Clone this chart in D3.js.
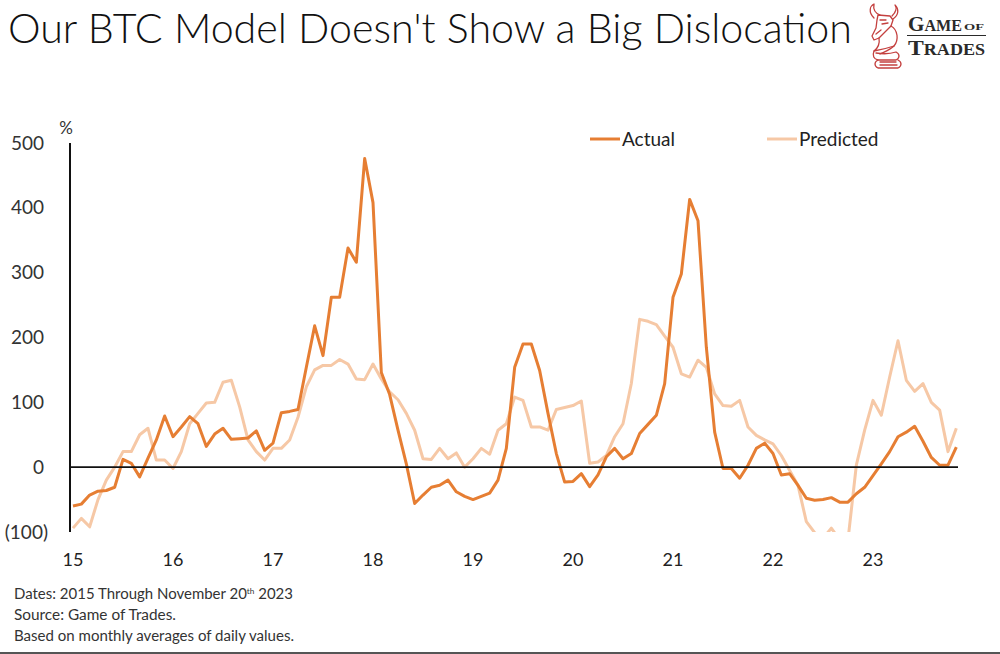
<!DOCTYPE html>
<html>
<head>
<meta charset="utf-8">
<script src="https://cdn.jsdelivr.net/npm/d3@7"></script>
<style>
  html, body { margin: 0; padding: 0; background: #fff; }
  svg { display: block; }
</style>
</head>
<body>
<svg id="chart" width="1000" height="654"></svg>
<script>
// ---------------- DATA ----------------
const startYear = 2015;           // first month: Jan 2015, monthly through Nov 2023
const actual = [
  -60, -57, -43, -37, -36, -31, 12, 6, -15, 14, 42, 79,
  47, 62, 78, 67, 32, 51, 60, 43, 44, 45, 56, 26,
  37, 84, 86, 89, 154, 218, 172, 262, 262, 338, 316, 476,
  408, 146, 112, 57, 5, -56, -43, -31, -28, -20, -38, -45,
  -50, -45, -40, -20, 29, 154, 190, 190, 149, 83, 21, -23,
  -22, -10, -30, -12, 16, 29, 13, 21, 52, 66, 80, 129,
  262, 298, 413, 380, 185, 54, -2, -2, -17, 3, 29, 37,
  21, -12, -10, -28, -48, -51, -50, -47, -54, -54, -41, -31,
  -13, 5, 24, 47, 54, 63, 40, 15, 3, 3, 31
];
const predicted = [
  -94, -79, -92, -50, -20, 0, 24, 24, 50, 60, 11, 11,
  -2, 24, 67, 83, 99, 100, 131, 134, 93, 42, 24, 11,
  29, 29, 42, 77, 124, 150, 157, 157, 166, 159, 136, 135,
  159, 136, 116, 104, 83, 57, 13, 12, 29, 13, 22, 0,
  13, 29, 20, 57, 67, 108, 103, 62, 62, 57, 89, 92,
  95, 102, 6, 8, 18, 47, 67, 129, 228, 225, 220, 202,
  185, 144, 139, 165, 154, 113, 95, 94, 103, 62, 49, 42,
  36, 18, -5, -28, -84, -101, -110, -94, -112, -112, 3, 57,
  103, 80, 139, 195, 134, 117, 129, 100, 88, 24, 60
];
const yTickValues = [-100, 0, 100, 200, 300, 400, 500];
const yTickLabels = ["(100)", "0", "100", "200", "300", "400", "500"];
const xTickLabels = ["15", "16", "17", "18", "19", "20", "21", "22", "23"];
const seriesNames = ["Actual", "Predicted"];
const colors = { Actual: "#E67E33", Predicted: "#F6C8A6" };

// ---------------- LAYOUT ----------------
const svg = d3.select("#chart");
const plotLeft = 70, plotRight = 958, yTop = 143, yBottom = 532;
const xFirst = 73, monthWidth = 100 / 12;

const x = d3.scaleLinear().domain([0, actual.length - 1])
  .range([xFirst, xFirst + (actual.length - 1) * monthWidth]);
const y = d3.scaleLinear().domain([-100, 500]).range([yBottom, yTop]);

const fontMain = "Lato, 'Open Sans', 'DejaVu Sans', sans-serif";

// Title
svg.append("text")
  .attr("x", 8).attr("y", 43)
  .attr("font-family", fontMain)
  .attr("font-size", 41)
  .attr("font-weight", 300)
  .attr("fill", "#111")
  .attr("textLength", 844)
  .attr("lengthAdjust", "spacingAndGlyphs")
  .text("Our BTC Model Doesn't Show a Big Dislocation");

// Logo
const logo = svg.append("g").attr("transform", "translate(866,4)")
  .attr("fill", "none").attr("stroke", "#C4403F").attr("stroke-width", 1.3)
  .attr("stroke-linejoin", "round").attr("stroke-linecap", "round");
logo.append("path").attr("d", "M8,14 C2,8 4,2 8,0 C7,5 9,9 14,11");
logo.append("path").attr("d", "M26,12 C30,8 31,4 29,1 C33,5 33,11 27,15");
logo.append("path").attr("d", "M12,11 L24,12 L27,16 L25,22 L21,26 L13,34 L8,36 L6,32 L10,24 L11,16 Z");
logo.append("path").attr("d", "M14,16 L20,16 M16,20 L22,19 M10,30 L15,26");
logo.append("path").attr("d", "M25,22 C32,26 33,36 28,42 C24,46 18,48 14,50");
logo.append("path").attr("d", "M13,34 C14,40 12,44 8,47 C14,46 22,44 28,42");
logo.append("path").attr("d", "M8,47 C6,52 8,55 12,56 L30,56 C34,54 34,50 30,48 C24,50 16,50 10,49");
logo.append("path").attr("d", "M12,56 C8,58 8,62 12,64 L32,64 C36,62 36,58 32,56");
logo.append("path").attr("d", "M14,58 L30,58 M14,61 L31,61");
const logoText = svg.append("g").attr("font-family", "'Liberation Serif', 'DejaVu Serif', serif")
  .attr("fill", "#2a2a2a").attr("font-weight", 700);
const t1 = logoText.append("text").attr("x", 908).attr("y", 31)
  .attr("textLength", 54).attr("lengthAdjust", "spacingAndGlyphs");
t1.append("tspan").attr("font-size", 21).text("G");
t1.append("tspan").attr("font-size", 16).text("AME");
logoText.append("text").attr("x", 964).attr("y", 30).attr("font-size", 8)
  .attr("textLength", 20).attr("lengthAdjust", "spacingAndGlyphs").text("OF");
svg.append("line").attr("x1", 907).attr("x2", 986).attr("y1", 35.5).attr("y2", 35.5)
  .attr("stroke", "#2a2a2a").attr("stroke-width", 1.2);
const t2 = logoText.append("text").attr("x", 908).attr("y", 55)
  .attr("textLength", 77).attr("lengthAdjust", "spacingAndGlyphs");
t2.append("tspan").attr("font-size", 21).text("T");
t2.append("tspan").attr("font-size", 16).text("RADES");

// Y axis labels
const yAxisG = svg.append("g");
yAxisG.selectAll("text.ytick").data(yTickValues).join("text")
  .attr("class", "ytick")
  .attr("x", 44)
  .attr("y", d => y(d))
  .attr("dy", "0.35em")
  .attr("text-anchor", "end")
  .attr("font-family", fontMain)
  .attr("font-size", 19)
  .attr("fill", "#333")
  .text((d, i) => yTickLabels[i]);
svg.select("text.ytick").attr("x", 48); // "(100)" sits slightly further right
svg.append("text").attr("x", 66).attr("y", 134)
  .attr("text-anchor", "middle").attr("font-family", fontMain)
  .attr("font-size", 17).attr("fill", "#333").text("%");

// Y axis line
svg.append("line")
  .attr("x1", plotLeft).attr("x2", plotLeft)
  .attr("y1", y(500)).attr("y2", y(-100))
  .attr("stroke", "#111").attr("stroke-width", 2);

// X tick labels (January of each year)
svg.append("g").selectAll("text").data(xTickLabels).join("text")
  .attr("x", (d, i) => x(i * 12))
  .attr("y", 560)
  .attr("dy", "0.35em")
  .attr("text-anchor", "middle")
  .attr("font-family", fontMain)
  .attr("font-size", 18)
  .attr("fill", "#222")
  .text(d => d);

// Clip for lines at -100
svg.append("clipPath").attr("id", "plotClip")
  .append("rect").attr("x", plotLeft).attr("y", 0)
  .attr("width", 1000 - plotLeft).attr("height", y(-100));

const lineGen = d3.line().x((d, i) => x(i)).y(d => y(d));
const linesG = svg.append("g").attr("clip-path", "url(#plotClip)");

// Predicted (drawn first, behind)
linesG.append("path").datum(predicted)
  .attr("d", lineGen).attr("fill", "none")
  .attr("stroke", colors.Predicted).attr("stroke-width", 3)
  .attr("stroke-linejoin", "round");

// Zero line
svg.append("line")
  .attr("x1", plotLeft).attr("x2", plotRight)
  .attr("y1", y(0)).attr("y2", y(0))
  .attr("stroke", "#111").attr("stroke-width", 1.8);

// Actual
linesG.append("path").datum(actual)
  .attr("d", lineGen).attr("fill", "none")
  .attr("stroke", colors.Actual).attr("stroke-width", 3)
  .attr("stroke-linejoin", "round");

// Legend
const legendX = [590, 767];
const legend = svg.append("g");
seriesNames.forEach((name, i) => {
  legend.append("line")
    .attr("x1", legendX[i]).attr("x2", legendX[i] + 30)
    .attr("y1", 139).attr("y2", 139)
    .attr("stroke", colors[name]).attr("stroke-width", 3);
  legend.append("text")
    .attr("x", legendX[i] + 32).attr("y", 139).attr("dy", "0.35em")
    .attr("font-family", fontMain).attr("font-size", 19).attr("fill", "#222")
    .text(name);
});

// Footnotes
const notes = svg.append("g").attr("font-family", fontMain).attr("font-size", 14.5).attr("fill", "#333");
const n1 = notes.append("text").attr("x", 14).attr("y", 599)
  .attr("textLength", 279).attr("lengthAdjust", "spacingAndGlyphs");
n1.append("tspan").text("Dates: 2015 Through November 20");
n1.append("tspan").attr("font-size", 8).attr("dy", -5).text("th");
n1.append("tspan").attr("dy", 5).text(" 2023");
notes.append("text").attr("x", 14).attr("y", 620)
  .attr("textLength", 162).attr("lengthAdjust", "spacingAndGlyphs").text("Source: Game of Trades.");
notes.append("text").attr("x", 14).attr("y", 641)
  .attr("textLength", 280).attr("lengthAdjust", "spacingAndGlyphs").text("Based on monthly averages of daily values.");

// Bottom rule
svg.append("line").attr("x1", 0).attr("x2", 1000).attr("y1", 653).attr("y2", 653)
  .attr("stroke", "#555").attr("stroke-width", 2);
</script>
</body>
</html>
